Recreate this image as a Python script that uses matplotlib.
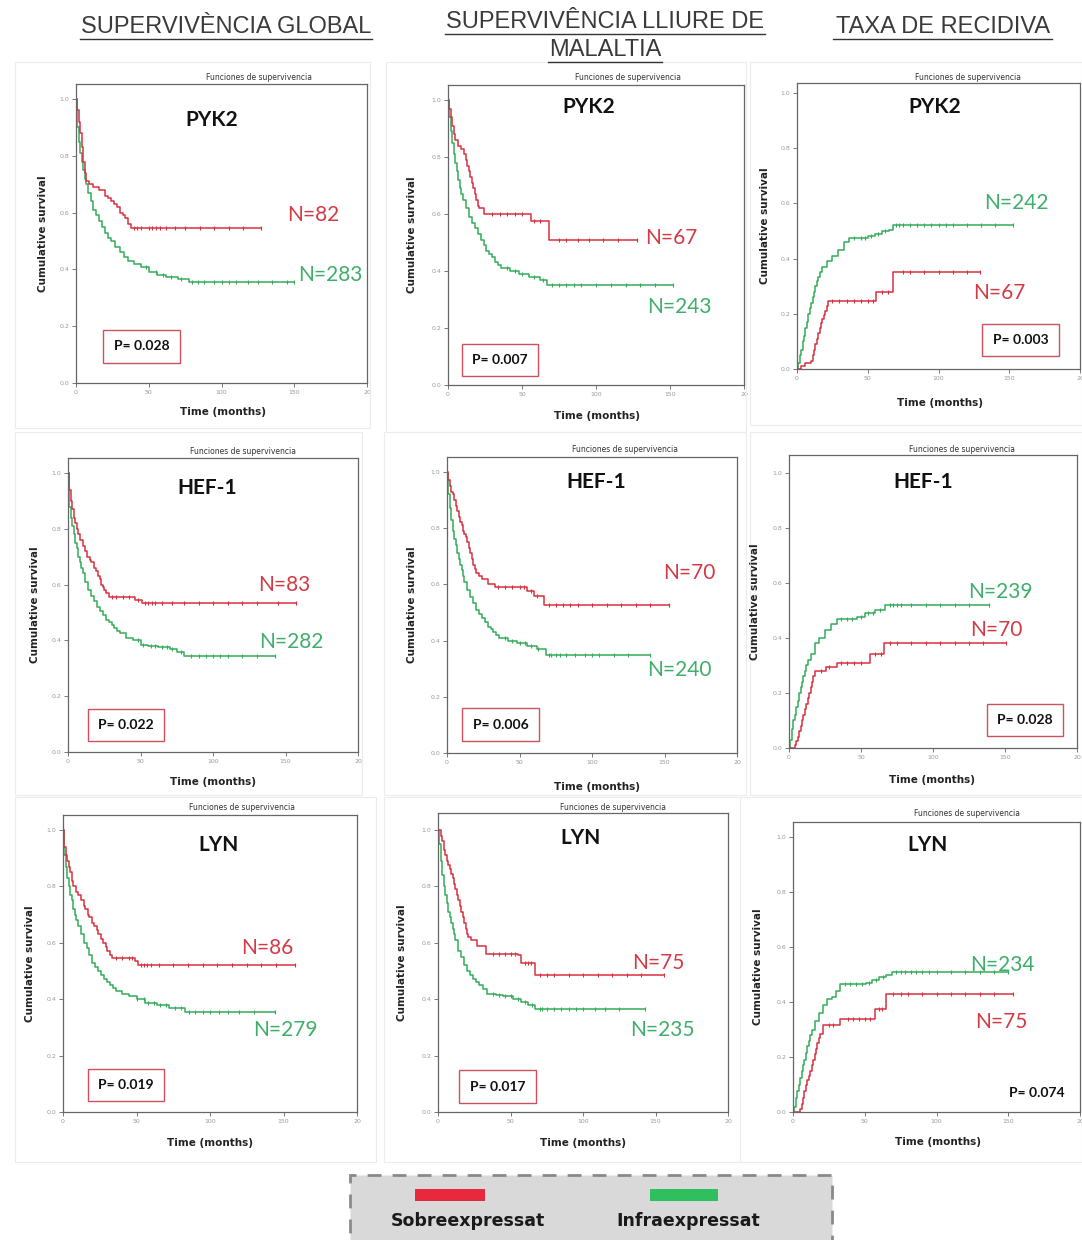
import numpy as np
import matplotlib.pyplot as plt
from matplotlib.patches import Rectangle
from matplotlib.lines import Line2D

W, H = 1082, 1240

# -----------------------------------------------------------------
# Dades (llegides de la figura)
# -----------------------------------------------------------------
col_titles = ["SUPERVIVÈNCIA GLOBAL", "SUPERVIVÊNCIA LLIURE DE\nMALALTIA", "TAXA DE RECIDIVA"]
genes = ["PYK2", "HEF-1", "LYN"]
legend_labels = ["Sobreexpressat", "Infraexpressat"]

p_values = [["0.028", "0.007", "0.003"],
            ["0.022", "0.006", "0.028"],
            ["0.019", "0.017", "0.074"]]
n_sobre = [[82, 67, 67], [83, 70, 70], [86, 75, 75]]
n_infra = [[283, 243, 242], [282, 240, 239], [279, 235, 234]]

# --- PYK2, supervivencia global
os_pyk2_red_t = [0, 1, 2, 3, 4, 5, 6, 7, 9, 12, 16, 20, 22, 24, 26, 28, 30, 32, 34, 36, 38, 127]
os_pyk2_red_s = [1.0, 0.96, 0.92, 0.88, 0.83, 0.78, 0.74, 0.71, 0.70, 0.69, 0.68, 0.66, 0.65, 0.64, 0.63, 0.62, 0.60, 0.59, 0.58, 0.56, 0.545, 0.545]
os_pyk2_red_c = [40, 42, 45, 50, 52, 55, 58, 62, 68, 75, 85, 95, 105, 115, 127]
os_pyk2_grn_t = [0, 1, 2, 3, 4, 5, 6, 7, 8, 10, 12, 14, 16, 18, 20, 22, 24, 27, 30, 33, 36, 40, 45, 50, 56, 62, 70, 78, 150]
os_pyk2_grn_s = [1.0, 0.90, 0.85, 0.81, 0.78, 0.75, 0.72, 0.70, 0.67, 0.64, 0.61, 0.59, 0.57, 0.55, 0.53, 0.51, 0.50, 0.48, 0.46, 0.445, 0.43, 0.42, 0.41, 0.39, 0.38, 0.375, 0.365, 0.355, 0.355]
os_pyk2_grn_c = [48, 55, 60, 65, 72, 80, 84, 88, 95, 100, 105, 110, 118, 125, 135, 145, 150]

# --- PYK2, supervivencia lliure de malaltia
dfs_pyk2_red_t = [0, 1, 2, 3, 4, 5, 7, 9, 11, 12, 13, 14, 15, 16, 17, 18, 19, 20, 21, 24, 56, 68, 128]
dfs_pyk2_red_s = [1.0, 0.97, 0.94, 0.91, 0.88, 0.86, 0.84, 0.83, 0.81, 0.79, 0.77, 0.75, 0.73, 0.71, 0.69, 0.67, 0.65, 0.63, 0.62, 0.60, 0.575, 0.51, 0.51]
dfs_pyk2_red_c = [30, 35, 40, 45, 50, 58, 62, 75, 80, 88, 95, 105, 115, 128]
dfs_pyk2_grn_t = [0, 1, 2, 3, 4, 5, 6, 7, 8, 9, 10, 12, 14, 16, 18, 20, 22, 24, 26, 28, 30, 32, 34, 36, 42, 48, 55, 62, 67, 152]
dfs_pyk2_grn_s = [1.0, 0.94, 0.89, 0.85, 0.81, 0.78, 0.75, 0.72, 0.69, 0.67, 0.65, 0.62, 0.59, 0.57, 0.55, 0.53, 0.51, 0.49, 0.47, 0.46, 0.45, 0.43, 0.42, 0.41, 0.40, 0.39, 0.38, 0.37, 0.35, 0.35]
dfs_pyk2_grn_c = [40, 45, 50, 58, 64, 70, 75, 80, 85, 90, 100, 110, 120, 130, 140, 152]

# --- PYK2, taxa de recidiva
rec_pyk2_red_t = [0, 3, 6, 10, 11, 12, 13, 14, 15, 16, 17, 18, 19, 20, 21, 22, 56, 68, 129]
rec_pyk2_red_s = [0.0, 0.01, 0.02, 0.03, 0.05, 0.07, 0.09, 0.11, 0.13, 0.15, 0.165, 0.18, 0.195, 0.21, 0.23, 0.245, 0.28, 0.35, 0.35]
rec_pyk2_red_c = [25, 30, 35, 40, 45, 50, 54, 60, 64, 75, 80, 90, 100, 110, 120, 129]
rec_pyk2_grn_t = [0, 1, 2, 3, 4, 5, 6, 7, 8, 9, 10, 11, 12, 13, 14, 15, 16, 18, 21, 25, 29, 33, 37, 50, 55, 60, 65, 68, 153]
rec_pyk2_grn_s = [0.0, 0.02, 0.05, 0.07, 0.10, 0.12, 0.15, 0.17, 0.20, 0.22, 0.24, 0.26, 0.28, 0.30, 0.32, 0.335, 0.35, 0.37, 0.39, 0.41, 0.43, 0.46, 0.475, 0.48, 0.49, 0.50, 0.505, 0.52, 0.52]
rec_pyk2_grn_c = [40, 45, 48, 52, 57, 62, 70, 72, 75, 80, 85, 90, 95, 100, 105, 110, 120, 130, 140, 153]

# --- HEF-1, supervivencia global
os_hef1_red_t = [0, 1, 2, 3, 4, 5, 6, 7, 8, 10, 12, 13, 15, 16, 18, 19, 21, 22, 23, 24, 25, 26, 28, 46, 51, 157]
os_hef1_red_s = [1.0, 0.94, 0.90, 0.87, 0.84, 0.82, 0.80, 0.78, 0.76, 0.74, 0.72, 0.70, 0.69, 0.68, 0.66, 0.65, 0.63, 0.62, 0.60, 0.59, 0.58, 0.57, 0.555, 0.545, 0.535, 0.535]
os_hef1_red_c = [30, 33, 38, 42, 48, 53, 55, 58, 60, 65, 72, 80, 90, 100, 110, 120, 130, 145, 157]
os_hef1_grn_t = [0, 1, 2, 3, 4, 5, 6, 7, 8, 9, 10, 12, 14, 16, 18, 20, 22, 24, 26, 28, 30, 32, 34, 36, 40, 45, 50, 55, 62, 70, 75, 80, 143]
os_hef1_grn_s = [1.0, 0.88, 0.84, 0.81, 0.78, 0.75, 0.73, 0.70, 0.68, 0.66, 0.64, 0.61, 0.58, 0.56, 0.54, 0.52, 0.505, 0.49, 0.475, 0.465, 0.455, 0.445, 0.435, 0.425, 0.41, 0.40, 0.385, 0.38, 0.375, 0.37, 0.36, 0.345, 0.345]
os_hef1_grn_c = [48, 52, 57, 60, 65, 68, 72, 78, 85, 90, 95, 100, 105, 110, 120, 130, 143]

# --- HEF-1, supervivencia lliure de malaltia
dfs_hef1_red_t = [0, 1, 2, 3, 4, 5, 6, 7, 8, 9, 10, 11, 12, 13, 14, 15, 16, 17, 18, 19, 20, 22, 24, 28, 33, 55, 60, 67, 153]
dfs_hef1_red_s = [1.0, 0.97, 0.95, 0.93, 0.92, 0.90, 0.88, 0.86, 0.84, 0.82, 0.81, 0.79, 0.78, 0.77, 0.75, 0.73, 0.71, 0.69, 0.67, 0.655, 0.64, 0.63, 0.62, 0.60, 0.59, 0.575, 0.56, 0.525, 0.525]
dfs_hef1_red_c = [35, 40, 45, 50, 53, 58, 62, 70, 75, 80, 85, 90, 100, 110, 120, 130, 140, 153]
dfs_hef1_grn_t = [0, 1, 2, 3, 4, 5, 6, 7, 8, 9, 10, 11, 12, 14, 16, 18, 20, 22, 24, 26, 28, 30, 32, 34, 36, 42, 48, 55, 62, 68, 140]
dfs_hef1_grn_s = [1.0, 0.92, 0.87, 0.83, 0.79, 0.76, 0.74, 0.71, 0.69, 0.67, 0.65, 0.63, 0.61, 0.58, 0.555, 0.535, 0.51, 0.495, 0.48, 0.465, 0.45, 0.44, 0.43, 0.42, 0.41, 0.40, 0.39, 0.38, 0.37, 0.35, 0.35]
dfs_hef1_grn_c = [40, 45, 50, 54, 58, 63, 70, 72, 75, 78, 82, 88, 95, 100, 105, 115, 125, 140]

# --- HEF-1, taxa de recidiva
rec_hef1_red_t = [0, 4, 5, 6, 7, 8, 9, 10, 11, 12, 13, 14, 15, 16, 17, 18, 26, 33, 56, 66, 151]
rec_hef1_red_s = [0.0, 0.01, 0.025, 0.04, 0.06, 0.08, 0.10, 0.12, 0.14, 0.16, 0.18, 0.20, 0.22, 0.24, 0.26, 0.28, 0.295, 0.31, 0.34, 0.38, 0.38]
rec_hef1_red_c = [22, 28, 36, 40, 45, 50, 60, 64, 70, 75, 85, 95, 105, 115, 125, 135, 151]
rec_hef1_grn_t = [0, 1, 2, 3, 4, 5, 6, 7, 8, 9, 10, 11, 12, 13, 15, 18, 21, 25, 29, 33, 47, 53, 60, 67, 139]
rec_hef1_grn_s = [0.0, 0.03, 0.07, 0.10, 0.12, 0.15, 0.17, 0.20, 0.22, 0.24, 0.26, 0.28, 0.30, 0.32, 0.34, 0.38, 0.40, 0.43, 0.45, 0.47, 0.475, 0.49, 0.50, 0.52, 0.52]
rec_hef1_grn_c = [36, 40, 44, 50, 55, 58, 63, 70, 72, 75, 78, 85, 95, 105, 115, 125, 139]

# --- LYN, supervivencia global
os_lyn_red_t = [0, 1, 2, 3, 4, 5, 6, 7, 9, 10, 12, 14, 15, 17, 18, 20, 21, 23, 24, 26, 27, 29, 30, 32, 33, 49, 51, 158]
os_lyn_red_s = [1.0, 0.94, 0.91, 0.89, 0.87, 0.85, 0.82, 0.80, 0.78, 0.77, 0.75, 0.73, 0.72, 0.70, 0.69, 0.67, 0.66, 0.645, 0.63, 0.615, 0.60, 0.585, 0.57, 0.555, 0.545, 0.535, 0.52, 0.52]
os_lyn_red_c = [36, 40, 45, 47, 53, 55, 57, 60, 65, 75, 85, 95, 105, 115, 125, 135, 145, 158]
os_lyn_grn_t = [0, 1, 2, 3, 4, 5, 6, 7, 8, 9, 10, 12, 14, 16, 18, 20, 22, 24, 26, 28, 30, 32, 34, 36, 40, 45, 50, 56, 64, 72, 83, 144]
os_lyn_grn_s = [1.0, 0.91, 0.87, 0.83, 0.80, 0.77, 0.75, 0.72, 0.70, 0.68, 0.66, 0.63, 0.60, 0.58, 0.555, 0.53, 0.515, 0.50, 0.485, 0.47, 0.46, 0.45, 0.44, 0.43, 0.42, 0.41, 0.40, 0.385, 0.38, 0.37, 0.355, 0.355]
os_lyn_grn_c = [50, 55, 58, 62, 66, 70, 76, 80, 86, 90, 95, 100, 106, 112, 120, 130, 144]

# --- LYN, supervivencia lliure de malaltia
dfs_lyn_red_t = [0, 2, 3, 4, 5, 6, 7, 8, 9, 10, 11, 12, 13, 14, 15, 16, 17, 18, 19, 20, 21, 23, 27, 33, 55, 57, 67, 156]
dfs_lyn_red_s = [1.0, 0.98, 0.96, 0.93, 0.91, 0.89, 0.875, 0.86, 0.845, 0.83, 0.81, 0.79, 0.77, 0.75, 0.73, 0.71, 0.69, 0.67, 0.65, 0.63, 0.62, 0.61, 0.59, 0.56, 0.555, 0.53, 0.485, 0.485]
dfs_lyn_red_c = [38, 42, 46, 50, 53, 60, 62, 64, 70, 75, 80, 90, 100, 110, 120, 130, 140, 156]
dfs_lyn_grn_t = [0, 1, 2, 3, 4, 5, 6, 7, 8, 9, 10, 11, 12, 14, 16, 18, 20, 22, 24, 26, 28, 31, 34, 40, 45, 52, 57, 62, 67, 143]
dfs_lyn_grn_s = [1.0, 0.95, 0.89, 0.84, 0.80, 0.77, 0.74, 0.71, 0.69, 0.67, 0.65, 0.63, 0.61, 0.57, 0.55, 0.52, 0.50, 0.485, 0.47, 0.46, 0.45, 0.435, 0.42, 0.415, 0.41, 0.40, 0.39, 0.38, 0.365, 0.365]
dfs_lyn_grn_c = [38, 42, 46, 50, 55, 60, 65, 70, 72, 75, 80, 85, 90, 95, 100, 108, 115, 125, 143]

# --- LYN, taxa de recidiva
rec_lyn_red_t = [0, 5, 6, 7, 8, 9, 10, 11, 12, 13, 14, 15, 16, 17, 18, 19, 21, 33, 57, 65, 153]
rec_lyn_red_s = [0.0, 0.01, 0.03, 0.05, 0.075, 0.10, 0.115, 0.13, 0.15, 0.17, 0.19, 0.21, 0.23, 0.25, 0.27, 0.285, 0.315, 0.34, 0.375, 0.43, 0.43]
rec_lyn_red_c = [25, 28, 38, 42, 46, 50, 54, 60, 62, 70, 75, 80, 90, 100, 110, 120, 130, 140, 153]
rec_lyn_grn_t = [0, 1, 2, 3, 4, 5, 6, 7, 8, 9, 10, 11, 12, 13, 15, 18, 21, 24, 27, 30, 33, 51, 55, 60, 65, 69, 150]
rec_lyn_grn_s = [0.0, 0.02, 0.05, 0.075, 0.10, 0.125, 0.15, 0.17, 0.19, 0.215, 0.24, 0.26, 0.28, 0.30, 0.33, 0.36, 0.39, 0.41, 0.42, 0.44, 0.465, 0.47, 0.48, 0.49, 0.50, 0.51, 0.51]
rec_lyn_grn_c = [36, 40, 44, 48, 53, 58, 63, 72, 75, 78, 82, 86, 90, 95, 100, 110, 120, 130, 140, 150]

curves = [
    [((os_pyk2_red_t, os_pyk2_red_s, os_pyk2_red_c), (os_pyk2_grn_t, os_pyk2_grn_s, os_pyk2_grn_c)),
     ((dfs_pyk2_red_t, dfs_pyk2_red_s, dfs_pyk2_red_c), (dfs_pyk2_grn_t, dfs_pyk2_grn_s, dfs_pyk2_grn_c)),
     ((rec_pyk2_red_t, rec_pyk2_red_s, rec_pyk2_red_c), (rec_pyk2_grn_t, rec_pyk2_grn_s, rec_pyk2_grn_c))],
    [((os_hef1_red_t, os_hef1_red_s, os_hef1_red_c), (os_hef1_grn_t, os_hef1_grn_s, os_hef1_grn_c)),
     ((dfs_hef1_red_t, dfs_hef1_red_s, dfs_hef1_red_c), (dfs_hef1_grn_t, dfs_hef1_grn_s, dfs_hef1_grn_c)),
     ((rec_hef1_red_t, rec_hef1_red_s, rec_hef1_red_c), (rec_hef1_grn_t, rec_hef1_grn_s, rec_hef1_grn_c))],
    [((os_lyn_red_t, os_lyn_red_s, os_lyn_red_c), (os_lyn_grn_t, os_lyn_grn_s, os_lyn_grn_c)),
     ((dfs_lyn_red_t, dfs_lyn_red_s, dfs_lyn_red_c), (dfs_lyn_grn_t, dfs_lyn_grn_s, dfs_lyn_grn_c)),
     ((rec_lyn_red_t, rec_lyn_red_s, rec_lyn_red_c), (rec_lyn_grn_t, rec_lyn_grn_s, rec_lyn_grn_c))],
]

# -----------------------------------------------------------------
# Layout (pixels de la imatge original)
# -----------------------------------------------------------------
# (left, top, right, bottom) de cada eix
axes_px = [
    [(76, 84, 367, 383), (448, 85, 744, 385), (797, 83, 1080, 369)],
    [(68, 458, 358, 752), (447, 457, 737, 753), (789, 455, 1077, 748)],
    [(63, 815, 357, 1112), (438, 813, 728, 1112), (793, 822, 1080, 1112)],
]
ymax = [[1.053, 1.053, 1.036], [1.054, 1.053, 1.065], [1.053, 1.06, 1.055]]
# posicions en coordenades de dades: gen, N sobre, N infra, caixa P
gene_pos = [[(93, 0.926), (95, 0.975), (97, 0.95)],
            [(96, 0.946), (103, 0.964), (93, 0.967)],
            [(106, 0.947), (98, 0.97), (94, 0.97)]]
nred_pos = [[(163, 0.59), (151, 0.516), (143, 0.275)],
            [(149, 0.60), (167, 0.64), (144, 0.43)],
            [(139, 0.58), (152, 0.528), (145, 0.327)]]
ngrn_pos = [[(175, 0.38), (156, 0.274), (155, 0.60)],
            [(154, 0.394), (160, 0.295), (147, 0.567)],
            [(151, 0.29), (155, 0.29), (146, 0.535)]]
p_pos = [[(45, 0.13), (35, 0.088), (158, 0.105)],
         [(40, 0.097), (37, 0.10), (164, 0.102)],
         [(43, 0.096), (41, 0.089), (170, 0.07)]]
func_px = [[(259, 78), (628, 78), (968, 78)],
           [(243, 452), (625, 450), (962, 450)],
           [(242, 808), (613, 807), (967, 813)]]
time_px = [[(223, 412), (597, 416), (940, 403)],
           [(213, 782), (597, 787), (932, 780)],
           [(210, 1143), (583, 1143), (938, 1142)]]
ylab_x = [[43, 412, 765], [35, 412, 755], [30, 402, 758]]
frames_px = [(15, 62, 370, 428), (386, 62, 746, 432), (750, 62, 1082, 425),
             (15, 432, 362, 795), (384, 432, 746, 795), (750, 432, 1082, 795),
             (15, 797, 376, 1162), (384, 797, 740, 1162), (740, 797, 1082, 1162)]

RED = "#d8303f"
GREEN = "#34ac5a"
RED_TXT = "#d33a45"
GREEN_TXT = "#3fae6a"


def fx(px):
    return px / W


def fy(py):
    return 1 - py / H


def step_at(t, s, x):
    i = np.searchsorted(t, x, side="right") - 1
    return np.asarray(s)[i]


fig = plt.figure(figsize=(W / 100, H / 100), dpi=100)
fig.patch.set_facecolor("white")

# marcs clars dels panells
for (l, t, r, b) in frames_px:
    fig.add_artist(Rectangle((fx(l), fy(b)), (r - l) / W, (b - t) / H,
                             transform=fig.transFigure, fill=False,
                             ec="#ececec", lw=0.8))

# capçaleres de columna
head_font = ["Liberation Sans Narrow", "Liberation Sans", "DejaVu Sans"]
fig.text(fx(226), fy(27), col_titles[0], ha="center", va="center",
         fontsize=17, family=head_font, color="#3a3a3a")
l1, l2 = col_titles[1].split("\n")
fig.text(fx(605), fy(22), l1, ha="center", va="center",
         fontsize=17, family=head_font, color="#3a3a3a")
fig.text(fx(605), fy(50), l2, ha="center", va="center",
         fontsize=17, family=head_font, color="#3a3a3a")
fig.text(fx(943), fy(27), col_titles[2], ha="center", va="center",
         fontsize=17, family=head_font, color="#3a3a3a")
for (x0, x1, yy) in [(80, 372, 39), (445, 765, 34), (548, 662, 62), (833, 1052, 39)]:
    fig.add_artist(Line2D([fx(x0), fx(x1)], [fy(yy), fy(yy)],
                          transform=fig.transFigure, color="#333333", lw=1.0))

for r in range(3):
    for c in range(3):
        l, t, rr, b = axes_px[r][c]
        ax = fig.add_axes([fx(l), fy(b), (rr - l) / W, (b - t) / H])
        ax.set_xlim(0, 200)
        ax.set_ylim(0, ymax[r][c])

        (rt, rs, rc), (gt, gs, gc) = curves[r][c]
        for tt, ss, cc, col in [(gt, gs, gc, GREEN), (rt, rs, rc, RED)]:
            ax.step(tt, ss, where="post", color=col, lw=1.1)
            ax.plot(cc, step_at(tt, ss, cc), ls="none", marker="|",
                    ms=3.5, mew=0.8, color=col)

        ax.set_xticks([0, 50, 100, 150, 200])
        ax.set_xticklabels(["0", "50", "100", "150", "20"])
        ax.set_yticks([0, 0.2, 0.4, 0.6, 0.8, 1.0])
        ax.set_yticklabels(["0.0", "0.2", "0.4", "0.6", "0.8", "1.0"])
        ax.tick_params(labelsize=4.5, labelcolor="#999999", color="#777777",
                       length=3, width=0.7, pad=2)
        for sp in ax.spines.values():
            sp.set_color("#666666")
            sp.set_linewidth(0.9)

        gx, gy = gene_pos[r][c]
        ax.text(gx, gy, genes[r], ha="center", va="center", fontsize=15,
                fontweight="bold", family=["Lato", "DejaVu Sans"], color="#111111")
        nx, ny = nred_pos[r][c]
        ax.text(nx, ny, f"N={n_sobre[r][c]}", ha="center", va="center",
                fontsize=15, family=["Lato", "DejaVu Sans"], color=RED_TXT, clip_on=False)
        nx, ny = ngrn_pos[r][c]
        ax.text(nx, ny, f"N={n_infra[r][c]}", ha="center", va="center",
                fontsize=15, family=["Lato", "DejaVu Sans"], color=GREEN_TXT, clip_on=False)

        px_, py_ = p_pos[r][c]
        if r == 2 and c == 2:
            ax.text(px_, py_, f"P= {p_values[r][c]}", ha="center", va="center",
                    fontsize=10, fontweight="bold", family=["Lato", "DejaVu Sans"],
                    color="#111111")
        else:
            ax.text(px_, py_, f"P= {p_values[r][c]}", ha="center", va="center",
                    fontsize=10, fontweight="bold", family=["Lato", "DejaVu Sans"],
                    color="#111111",
                    bbox=dict(boxstyle="square,pad=0.75", fc="white", ec="#d05060", lw=1.0))

        fxp, fyp = func_px[r][c]
        fig.text(fx(fxp), fy(fyp), "Funciones de supervivencia", ha="center",
                 va="center", fontsize=5.5, color="#333333")
        txp, typ = time_px[r][c]
        fig.text(fx(txp), fy(typ), "Time (months)", ha="center", va="center",
                 fontsize=7.5, fontweight="bold", color="#222222")
        fig.text(fx(ylab_x[r][c]), fy((t + b) / 2), "Cumulative survival",
                 rotation=90, ha="center", va="center", fontsize=7.5,
                 fontweight="bold", color="#222222")

# llegenda inferior
fig.add_artist(Rectangle((fx(350), fy(1242)), (832 - 350) / W, (1242 - 1175) / H,
                         transform=fig.transFigure, fc="#d9d9d9", ec="#8a8a8a",
                         lw=2.0, ls=(0, (5, 4))))
fig.add_artist(Rectangle((fx(415), fy(1201)), 70 / W, 12 / H,
                         transform=fig.transFigure, fc="#e8283c", ec="none"))
fig.add_artist(Rectangle((fx(650), fy(1201)), 68 / W, 12 / H,
                         transform=fig.transFigure, fc="#2fbf5f", ec="none"))
fig.text(fx(468), fy(1221), legend_labels[0], ha="center", va="center",
         fontsize=12.5, fontweight="bold", color="#1a1a1a")
fig.text(fx(688), fy(1221), legend_labels[1], ha="center", va="center",
         fontsize=12.5, fontweight="bold", color="#1a1a1a")

fig.savefig("out.png", dpi=100)
